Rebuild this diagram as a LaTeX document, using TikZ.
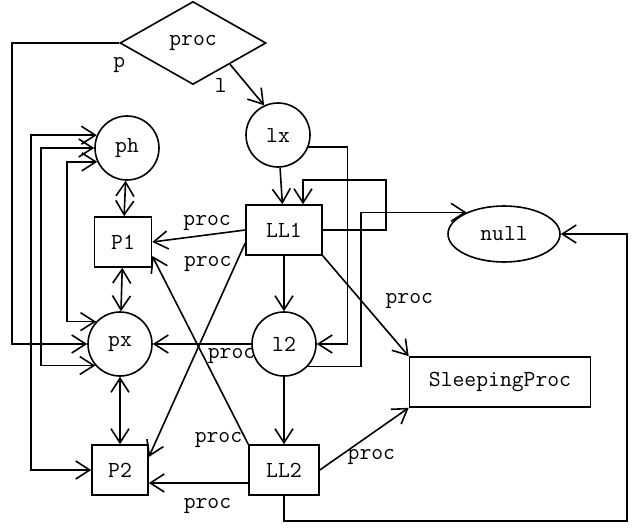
\documentclass[tikz,border=0pt]{standalone}
\usetikzlibrary{shapes.geometric,arrows.meta}
\begin{document}
\begin{tikzpicture}
[
    x=1pt, y=-1pt,
    line width=1.6pt,
    >={Straight Barb[length=14pt,width=18pt]},
    every node/.style={font=\ttfamily\fontsize{23}{26}\selectfont},
    var/.style={draw, circle, minimum size=64pt, inner sep=0pt},
    obj/.style={draw, rectangle, minimum height=50pt, inner sep=0pt}
]
    \useasboundingbox (0,0) rectangle (634,527);

    % nodes
    \node [draw, diamond, minimum width=146pt, minimum height=83pt, inner sep=0pt] (proc) at (193,43) {proc};
    \node [var] (lx) at (278,135) {lx};
    \node [var] (ph) at (127,148) {ph};
    \node [var] (px) at (120,344) {px};
    \node [var] (l2) at (284,344) {l2};
    \node [obj, minimum width=57pt] (P1) at (123,242) {P1};
    \node [obj, minimum width=56pt] (P2) at (120,470) {P2};
    \node [obj, minimum width=76pt] (LL1) at (284,230) {LL1};
    \node [obj, minimum width=70pt] (LL2) at (284,470) {LL2};
    \node [obj, minimum width=181pt] (SleepingProc) at (500,382) {SleepingProc};
    \node [draw, ellipse, minimum width=112pt, minimum height=56pt, inner sep=0pt] (null) at (504,234) {null};

    % fields of proc
    \draw [->] (proc.west) -- node [at start, below=10pt] {p} ++(-107,0) |- (px.west);
    \draw [->] (proc.south east) -- node [at start, below=10pt, xshift=-9pt] {l} (lx.115);

    % lists
    \draw [->] (lx) -- (LL1);
    \draw [->] (lx.-22) -- ++(39,0) |- (l2.east);
    \draw [->] (LL1.east) -- ++(63,0) -- ++(0,-50) -| ([xshift=19pt]LL1.north);
    \draw [->] (l2.-43) -- ++(53,0) |- (null.150);
    \draw [->] (LL2.south) -- ++(0,25) -| ([xshift=66pt]null.east) -- (null.east);
    \draw [->] (LL1) -- (l2);
    \draw [->] (l2) -- (LL2);

    % proc edges
    \draw [->] (LL1.west) -- node [pos=0.41, above] {proc} (P1.east);
    \draw [->] ([yshift=-13pt]LL1.west) -- node [pos=0.1, left] {proc} ([yshift=13pt]P2.east);
    \draw [->] (LL2.north west) -- node [pos=0.02, left] {proc} ([yshift=-14pt]P1.east);
    \draw [->] ([yshift=-13pt]LL2.west) -- node [pos=0.41, below=11pt] {proc} ([yshift=-13pt]P2.east);
    \draw [->] (l2) -- node [pos=0.2, below=0pt] {proc} (px);
    \draw [->] (LL1.south east) -- node [pos=0.45, right=20pt] {proc} (SleepingProc.north west);
    \draw [->] (LL2.east) -- node [pos=0.58, below=11pt] {proc} (SleepingProc.south west);

    % aliases
    \draw [<->] (ph) -- (P1);
    \draw [<->] (P1) -- (px);
    \draw [<->] (px) -- (P2);
    \draw [<->] (ph.205) -- ++(-30,0) |- (px.137);
    \draw [<->] (ph.west) -- ++(-53,0) |- (px.221);
    \draw [<->] (ph.157) -- ++(-66,0) |- (P2.west);
\end{tikzpicture}
\end{document}
